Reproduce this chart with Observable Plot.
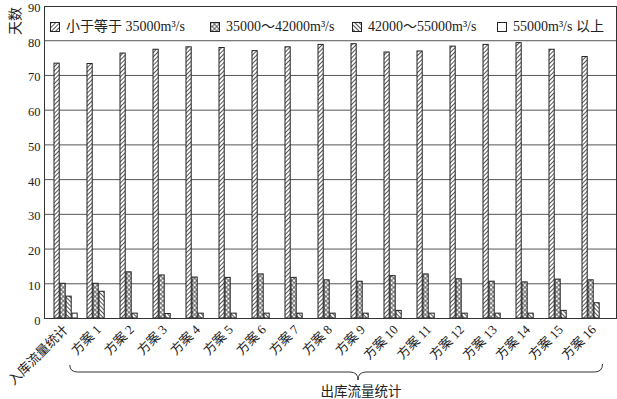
<!DOCTYPE html>
<html><head><meta charset="utf-8">
<script src="https://cdn.jsdelivr.net/npm/d3@7"></script>
<script src="https://cdn.jsdelivr.net/npm/@observablehq/plot@0.6"></script>
<style>
body{margin:0;background:#fff;}
#wrap{position:relative;width:617px;height:399px;font-family:"Liberation Serif","Noto Sans CJK SC",serif;color:#222;}
.leg{position:absolute;top:19px;font-size:14px;white-space:nowrap;display:flex;align-items:center;line-height:16px;}
.leg svg{margin-right:6px;display:block}
</style></head><body><div id="wrap"></div>
<script>
// ---- data ----
const groups = ["入库流量统计","方案 1","方案 2","方案 3","方案 4","方案 5","方案 6","方案 7","方案 8","方案 9","方案 10","方案 11","方案 12","方案 13","方案 14","方案 15","方案 16"];
const seriesNames = ["小于等于 35000m³/s","35000～42000m³/s","42000～55000m³/s","55000m³/s 以上"];
const below35000 = [73.4,73.3,76.3,77.4,78.1,77.9,77.0,78.1,78.8,79.0,76.6,76.9,78.3,78.8,79.3,77.4,75.3];
const from35to42 = [10.0,10.0,13.3,12.4,11.8,11.7,12.7,11.7,11.0,10.6,12.2,12.7,11.3,10.6,10.4,11.2,11.0];
const from42to55 = [6.3,7.7,1.4,1.3,1.4,1.4,1.4,1.4,1.4,1.4,2.2,1.4,1.4,1.4,1.4,2.2,4.4];
const above55000 = [1.4,0,0,0,0,0,0,0,0,0,0,0,0,0,0,0,0];
const yTicks = [0,10,20,30,40,50,60,70,80,90];
const yLabel = "天数";
const braceLabel = "出库流量统计";

const series = [below35000, from35to42, from42to55, above55000];
const W = 617, H = 399;
const xRange = [42, 616.5];
const bw = (xRange[1]-xRange[0]) / groups.length;
const barW = 6, lead = 5;

const marks = [
  Plot.gridY({ticks: yTicks.filter(t => t > 0 && t < 90), stroke: "#555", strokeOpacity: 1})
];
series.forEach((vals, k) => {
  marks.push(Plot.rectY(groups, {
    filter: (d, i) => vals[i] > 0,
    x: d => d,
    y1: 0,
    y2: (d, i) => vals[i],
    fill: `url(#pat${k})`,
    stroke: "#222",
    strokeWidth: 1,
    insetLeft: lead + barW * k,
    insetRight: bw - lead - barW * (k + 1)
  }));
});
marks.push(Plot.frame({stroke: "#333"}));
marks.push(Plot.axisY({ticks: yTicks, tickSize: 0, tickPadding: 4, label: null, fontSize: 12.5, dy: 2}));
marks.push(Plot.axisX({tickSize: 0, tickRotate: -45, tickPadding: 9, label: null, fontSize: 13}));

const chart = Plot.plot({
  width: W, height: H,
  marginLeft: 44, marginRight: 1, marginTop: 6, marginBottom: 81,
  style: {fontFamily: '"Liberation Serif","Noto Sans CJK SC",serif', fontSize: "13px", color: "#222", background: "#fff"},
  x: {domain: groups, range: xRange, padding: 0},
  y: {domain: [0, 90], range: [318, 5.5]},
  marks
});

const svg = d3.select(chart);
svg.insert("defs", ":first-child").html(`
  <pattern id="pat0" patternUnits="userSpaceOnUse" width="3" height="3" patternTransform="rotate(45)">
    <rect width="3" height="3" fill="#fff"/><line x1="1.5" y1="0" x2="1.5" y2="3" stroke="#444" stroke-width="0.9"/></pattern>
  <pattern id="pat1" patternUnits="userSpaceOnUse" width="3.2" height="3.2" patternTransform="rotate(45)">
    <rect width="3.2" height="3.2" fill="#fff"/><line x1="1.6" y1="0" x2="1.6" y2="3.2" stroke="#444" stroke-width="0.8"/><line x1="0" y1="1.6" x2="3.2" y2="1.6" stroke="#444" stroke-width="0.8"/></pattern>
  <pattern id="pat2" patternUnits="userSpaceOnUse" width="3" height="3" patternTransform="rotate(-45)">
    <rect width="3" height="3" fill="#fff"/><line x1="1.5" y1="0" x2="1.5" y2="3" stroke="#444" stroke-width="0.9"/></pattern>
  <pattern id="pat3" patternUnits="userSpaceOnUse" width="3" height="3">
    <rect width="3" height="3" fill="#fff"/></pattern>
`);

// y axis title
svg.append("text")
  .attr("transform", "translate(15,21) rotate(-90)")
  .attr("text-anchor", "middle").attr("dy", "0.35em")
  .attr("font-size", 14).attr("fill", "#222")
  .attr("font-family", '"Noto Sans CJK SC",sans-serif')
  .text(yLabel);

// brace under 方案 1..16 computed from the x scale
const xs = chart.scale("x");
const step = (xs.range[1] - xs.range[0]) / xs.domain.length;
const bandStart = g => xs.range[0] + xs.domain.indexOf(g) * step;
const L = bandStart(groups[1]) - 6;
const R = bandStart(groups[16]) + step - 14;
const T = bandStart(groups[9]) + step / 2 - 5;
const yb = 372, r = 8;
const path = `M${L},${yb-7} Q${L},${yb} ${L+r},${yb} L${T-r},${yb} Q${T},${yb} ${T},${yb+8} Q${T},${yb} ${T+r},${yb} L${R-r},${yb} Q${R},${yb} ${R},${yb-8}`;
svg.append("path").attr("d", path).attr("fill", "none").attr("stroke", "#333").attr("stroke-width", 1);
svg.append("text")
  .attr("x", T + 3).attr("y", 391)
  .attr("text-anchor", "middle").attr("dy", "0.35em")
  .attr("font-size", 13.5).attr("fill", "#222")
  .attr("font-family", '"Noto Sans CJK SC",sans-serif')
  .text(braceLabel);

const wrap = document.getElementById("wrap");
wrap.appendChild(chart);
chart.style.position = "absolute";
chart.style.left = "0"; chart.style.top = "0";

// legend (overlaid inside the plot frame)
const legLeft = [50, 210, 352, 497];
seriesNames.forEach((name, k) => {
  const div = document.createElement("div");
  div.className = "leg";
  div.style.left = legLeft[k] + "px";
  div.innerHTML = `<svg width="10" height="10"><rect x="0.5" y="0.5" width="9" height="9" fill="url(#pat${k})" stroke="#222"/></svg><span>${name}</span>`;
  wrap.appendChild(div);
});
</script>
</body></html>
